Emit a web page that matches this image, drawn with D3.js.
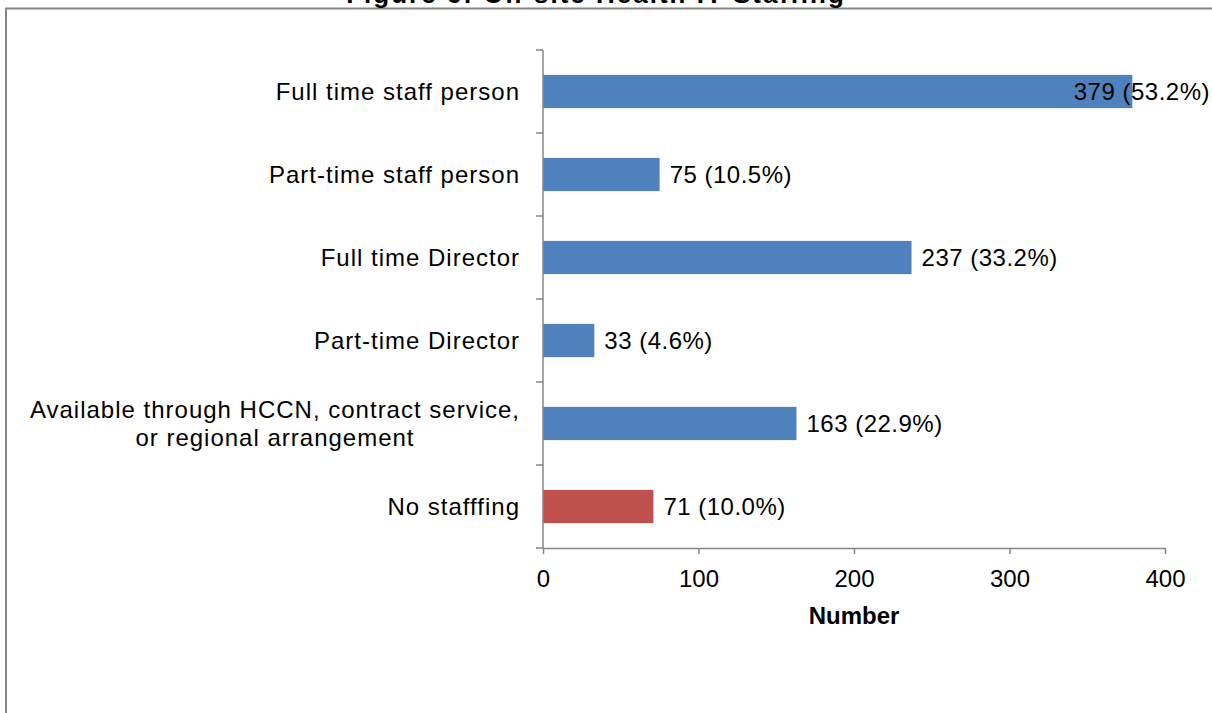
<!DOCTYPE html>
<html>
<head>
<meta charset="utf-8">
<script src="https://cdn.jsdelivr.net/npm/d3@7"></script>
<style>
  body { margin: 0; background: #fff; }
  text { font-family: "Liberation Sans", Arial, sans-serif; }
</style>
</head>
<body>
<script>
// Chart data
const categories = [
  'Full time staff person',
  'Part-time staff person',
  'Full time Director',
  'Part-time Director',
  'Available through HCCN, contract service,|or regional arrangement',
  'No stafffing'
];
const counts = [379, 75, 237, 33, 163, 71];
const percents = ['53.2%', '10.5%', '33.2%', '4.6%', '22.9%', '10.0%'];
const xTicks = [0, 100, 200, 300, 400];
const title = 'Figure 6: On-site Health IT Staffing';

const W = 1212, H = 713;
const plot = { left: 543, right: 1165, top: 50, bottom: 548 };

const svg = d3.select('body').append('svg')
  .attr('width', W)
  .attr('height', H);

// Outer frame (cut off at right and bottom)
svg.append('rect')
  .attr('x', 6).attr('y', 8.5)
  .attr('width', W + 20).attr('height', H + 20)
  .attr('fill', 'none')
  .attr('stroke', '#868686')
  .attr('stroke-width', 2);

// Title, clipped by the top edge
svg.append('text')
  .attr('x', 596).attr('y', 3)
  .attr('text-anchor', 'middle')
  .style('font-size', '26px')
  .style('letter-spacing', '2px')
  .style('font-weight', 'bold')
  .text(title);

// Scales
const x = d3.scaleLinear().domain([0, 400]).range([plot.left, plot.right]);
const y = d3.scaleBand()
  .domain(categories)
  .range([plot.top, plot.bottom])
  .paddingInner(0.6)
  .paddingOuter(0.3);
const step = y.step();

const axisColor = '#868686';

// Bars
svg.selectAll('rect.bar')
  .data(categories)
  .enter().append('rect')
  .attr('class', 'bar')
  .attr('x', x(0))
  .attr('y', d => y(d))
  .attr('width', (d, i) => x(counts[i]) - x(0))
  .attr('height', y.bandwidth())
  .attr('fill', (d, i) => i === categories.length - 1 ? '#C0504D' : '#4F81BD');

// Y axis line and boundary ticks
svg.append('line')
  .attr('x1', plot.left).attr('x2', plot.left)
  .attr('y1', plot.top).attr('y2', plot.bottom)
  .attr('stroke', axisColor).attr('stroke-width', 1.5);

svg.selectAll('line.ytick')
  .data(d3.range(categories.length + 1))
  .enter().append('line')
  .attr('class', 'ytick')
  .attr('x1', plot.left - 7).attr('x2', plot.left)
  .attr('y1', i => plot.top + i * step)
  .attr('y2', i => plot.top + i * step)
  .attr('stroke', axisColor).attr('stroke-width', 1.5);

// X axis
const xAxis = svg.append('g')
  .attr('transform', `translate(0,${plot.bottom})`)
  .call(d3.axisBottom(x).tickValues(xTicks).tickSize(6).tickSizeOuter(0).tickPadding(16));
xAxis.select('.domain').attr('stroke', axisColor).attr('stroke-width', 1.5);
xAxis.selectAll('.tick line').attr('stroke', axisColor).attr('stroke-width', 1.5);
xAxis.selectAll('.tick text')
  .attr('fill', '#000')
  .style('font-size', '24px')
  .style('font-family', '"Liberation Sans", Arial, sans-serif');

// Category labels
categories.forEach(c => {
  const lines = c.split('|');
  const cy = y(c) + y.bandwidth() / 2;
  const lineH = 28;
  const t = svg.append('text')
    .attr('text-anchor', 'end')
    .style('font-size', '24px')
    .style('letter-spacing', '1px');
  lines.forEach((ln, j) => {
    t.append('tspan')
      .attr('x', 520)
      .attr('y', cy + (j - (lines.length - 1) / 2) * lineH)
      .attr('dy', '0.35em')
      .text(ln);
  });
  if (lines.length > 1) {
    // center the lines within the block
    const widths = [];
    t.selectAll('tspan').each(function () { widths.push(this.getComputedTextLength()); });
    const maxW = d3.max(widths);
    t.selectAll('tspan').attr('x', (d, j) => 520 - (maxW - widths[j]) / 2);
  }
});

// Value labels
categories.forEach((c, i) => {
  const t = svg.append('text')
    .attr('y', y(c) + y.bandwidth() / 2)
    .attr('dy', '0.35em')
    .style('font-size', '24px')
    .style('letter-spacing', '0.5px')
    .text(`${counts[i]} (${percents[i]})`);
  const w = t.node().getComputedTextLength();
  const xPos = Math.min(x(counts[i]) + 10, W - 2 - w);
  t.attr('x', xPos);
});

// X axis title
svg.append('text')
  .attr('x', 854)
  .attr('y', 624)
  .attr('text-anchor', 'middle')
  .style('font-size', '24px')
  .style('font-weight', 'bold')
  .text('Number');
</script>
</body>
</html>
